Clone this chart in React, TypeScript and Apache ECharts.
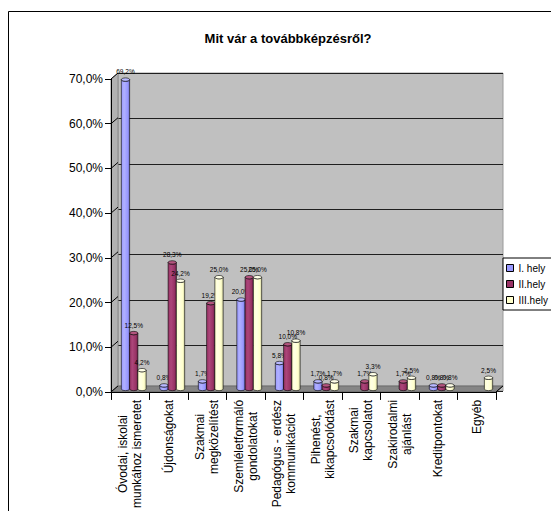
import { useEffect, useRef } from "react";
import * as echarts from "echarts";

// Survey answers: share of respondents placing each option 1st, 2nd or 3rd
const categories = [
  "Óvodai, iskolai\nmunkához ismeretet",
  "Újdonságokat",
  "Szakmai\nmegközelítést",
  "Szemléletformáló\ngondolatokat",
  "Pedagógus - erdész\nkommunikációt",
  "Pihenést,\nkikapcsolódást",
  "Szakmai\nkapcsolatot",
  "Szakirodalmi\najánlást",
  "Kreditpontokat",
  "Egyéb",
];
const seriesNames = ["I. hely", "II.hely", "III.hely"];
const firstPlace: (number | null)[] = [69.2, 0.8, 1.7, 20.0, 5.8, 1.7, null, null, 0.8, null];
const secondPlace: (number | null)[] = [12.5, 28.3, 19.2, 25.0, 10.0, 0.8, 1.7, 1.7, 0.8, null];
const thirdPlace: (number | null)[] = [4.2, 24.2, 25.0, 25.0, 10.8, 1.7, 3.3, 2.5, 0.8, 2.5];
const yMin = 0;
const yMax = 70;
const yStep = 10;

const FONT = "'Liberation Sans', Arial, sans-serif";

// front plane of the 3D box and the depth shift to the back wall
const FRONT = { left: 111, top: 79, width: 385, height: 318 };
const DX = 7;
const DY = -6;

type Palette = { base: string; light: string; dark: string; top: string };
const palettes: Palette[] = [
  { base: "#9999ff", light: "#b0b0ff", dark: "#6f6fcc", top: "#b8b8ff" },
  { base: "#993366", light: "#ab4579", dark: "#6e2249", top: "#b4557f" },
  { base: "#ffffcc", light: "#ffffe4", dark: "#d2d2a2", top: "#ffffe8" },
];

const pct = (v: number) => v.toFixed(1).replace(".", ",") + "%";

function cylinderRenderer(k: number, pal: Palette) {
  return (params: any, api: any) => {
    const ci = api.value(0);
    const v = api.value(1);
    const top = api.coord([ci, v]);
    const base = api.coord([ci, 0]);
    const band = api.size([1, 0])[0];
    const bw = band * 0.215;
    const cx = top[0] + (k - 1) * bw + DX / 2;
    const ty = top[1] + DY / 2;
    const by = base[1] + DY / 2;
    const rx = bw / 2;
    const ry = 1.7;
    const l = cx - rx;
    const r = cx + rx;
    const body = `M${l},${ty} L${l},${by} A${rx},${ry} 0 0 0 ${r},${by} L${r},${ty} A${rx},${ry} 0 0 1 ${l},${ty} Z`;
    return {
      type: "group",
      children: [
        {
          type: "path",
          shape: { pathData: body },
          style: {
            fill: {
              type: "linear",
              x: 0,
              y: 0,
              x2: 1,
              y2: 0,
              colorStops: [
                { offset: 0, color: pal.base },
                { offset: 0.35, color: pal.light },
                { offset: 0.75, color: pal.base },
                { offset: 1, color: pal.dark },
              ],
            },
            stroke: "#000",
            lineWidth: 0.6,
          },
        },
        {
          type: "ellipse",
          shape: { cx, cy: ty, rx, ry },
          style: { fill: pal.top, stroke: "#000", lineWidth: 0.6 },
        },
        {
          type: "text",
          style: {
            text: pct(v),
            x: cx,
            y: ty - ry - 2.5,
            align: "center",
            verticalAlign: "bottom",
            fontSize: 6.5,
            fontFamily: FONT,
            fill: "#000",
          },
        },
      ],
    };
  };
}

const seriesValues = [firstPlace, secondPlace, thirdPlace];

export default function App() {
  const ref = useRef<HTMLDivElement>(null);

  useEffect(() => {
    if (!ref.current) return;
    const chart = echarts.init(ref.current, undefined, { renderer: "svg" });

    const option: any = {
      animation: false,
      backgroundColor: "#fff",
      title: {
        text: "Mit vár a továbbképzésről?",
        left: 283,
        top: 27,
        textAlign: "center",
        textStyle: { fontFamily: FONT, fontSize: 13, fontWeight: "bold", color: "#000" },
      },
      legend: {
        orient: "vertical",
        left: 503,
        top: 258,
        padding: [4, 60, 4, 3],
        itemGap: 4,
        itemWidth: 7,
        itemHeight: 7,
        icon: "rect",
        borderColor: "#000",
        borderWidth: 1,
        backgroundColor: "#fff",
        data: seriesNames,
        textStyle: { fontFamily: FONT, fontSize: 10, color: "#000", lineHeight: 12 },
        itemStyle: { borderColor: "#000", borderWidth: 1 },
      },
      grid: [
        { ...FRONT, containLabel: false },
        {
          left: FRONT.left + DX,
          top: FRONT.top + DY,
          width: FRONT.width,
          height: FRONT.height,
          show: true,
          backgroundColor: "#c0c0c0",
          borderColor: "#9a9a9a",
          borderWidth: 1,
        },
      ],
      xAxis: [
        {
          type: "category",
          gridIndex: 0,
          data: categories,
          z: 5,
          axisLine: { lineStyle: { color: "#000", width: 1 } },
          axisTick: { show: true, interval: 0, length: 8, lineStyle: { color: "#000" } },
          axisLabel: {
            interval: 0,
            rotate: 90,
            margin: 8,
            color: "#000",
            fontFamily: FONT,
            fontSize: 12,
            lineHeight: 14,
            formatter: (value: string) =>
              value
                .split("\n")
                .map((line) => `{c|${line}}`)
                .join("\n"),
            rich: { c: { align: "center", fontFamily: FONT, fontSize: 12, lineHeight: 14, color: "#000" } },
          },
          splitLine: { show: false },
        },
        {
          type: "category",
          gridIndex: 1,
          data: categories,
          show: false,
        },
      ],
      yAxis: [
        {
          type: "value",
          gridIndex: 0,
          min: yMin,
          max: yMax,
          interval: yStep,
          z: 5,
          axisLine: { show: true, lineStyle: { color: "#000", width: 1 } },
          axisTick: { show: true, length: 6, lineStyle: { color: "#000" } },
          axisLabel: {
            margin: 8,
            color: "#000",
            fontFamily: FONT,
            fontSize: 12,
            formatter: (v: number) => pct(v),
          },
          splitLine: { show: false },
        },
        {
          type: "value",
          gridIndex: 1,
          min: yMin,
          max: yMax,
          interval: yStep,
          axisLine: { show: false },
          axisTick: { show: false },
          axisLabel: { show: false },
          splitLine: { show: true, lineStyle: { color: "#1f1f1f", width: 1 } },
        },
      ],
      series: seriesNames.map((name, k) => ({
        name,
        type: "custom",
        xAxisIndex: 0,
        yAxisIndex: 0,
        z: 3,
        itemStyle: { color: palettes[k].base, borderColor: "#000", borderWidth: 1 },
        encode: { x: 0, y: 1 },
        renderItem: cylinderRenderer(k, palettes[k]),
        data: seriesValues[k]
          .map((v, i) => (v == null ? null : [i, v]))
          .filter((d) => d != null),
      })),
    };
    chart.setOption(option);

    // side wall, floor and the slanted tick lines of the 3D box
    const yPix = (v: number) => chart.convertToPixel({ yAxisIndex: 0 }, v) as number;
    const x0 = FRONT.left;
    const x1 = FRONT.left + FRONT.width;
    const yTop = yPix(yMax);
    const yBot = yPix(yMin);
    const slants: any[] = [];
    for (let v = yMin; v <= yMax; v += yStep) {
      const y = yPix(v);
      slants.push({
        type: "line",
        z: 2,
        shape: { x1: x0, y1: y, x2: x0 + DX, y2: y + DY },
        style: { stroke: "#000", lineWidth: 1 },
      });
    }
    chart.setOption({
      graphic: [
        {
          type: "rect",
          z: 0,
          shape: { x: 8.5, y: 11.5, width: 700, height: 700 },
          style: { fill: "none", stroke: "#000", lineWidth: 1 },
        },
        {
          type: "polygon",
          z: 1,
          shape: { points: [[x0, yTop], [x0 + DX, yTop + DY], [x0 + DX, yBot + DY], [x0, yBot]] },
          style: { fill: "#b2b2b2", stroke: "#8a8a8a", lineWidth: 1 },
        },
        {
          type: "polygon",
          z: 1,
          shape: { points: [[x0, yBot], [x0 + DX, yBot + DY], [x1 + DX, yBot + DY], [x1, yBot]] },
          style: { fill: "#858585", stroke: "#6a6a6a", lineWidth: 1 },
        },
        {
          type: "line",
          z: 6,
          shape: { x1: x1, y1: yBot, x2: x1 + DX, y2: yBot + DY },
          style: { stroke: "#000", lineWidth: 1 },
        },
        ...slants,
      ],
    });

    return () => chart.dispose();
  }, []);

  return (
    <div
      ref={ref}
      style={{ position: "absolute", left: 0, top: 0, width: 551, height: 511, background: "#fff" }}
    />
  );
}
